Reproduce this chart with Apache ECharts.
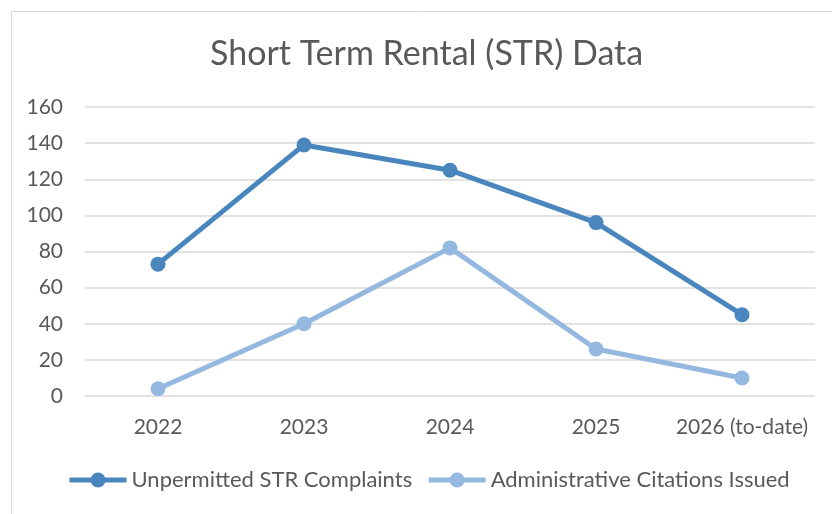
<!DOCTYPE html>
<html><head><meta charset="utf-8">
<script src="https://cdn.jsdelivr.net/npm/echarts@6/dist/echarts.min.js"></script>
<style>html,body{margin:0;padding:0;background:#fff}#c{width:832px;height:514px}</style>
</head><body><div id="c"></div>
<script>
const categories = ['2022','2023','2024','2025','2026 (to-date)'];
const complaints = [73, 139, 125, 96, 45];
const citations = [4, 40, 82, 26, 10];
const yTicks = [0, 20, 40, 60, 80, 100, 120, 140, 160];

const FONT = 'Lato, "Open Sans", sans-serif';
const chart = echarts.init(document.getElementById('c'));
chart.setOption({
  animation: false,
  graphic: [{
    type: 'rect', left: 9, top: 9,
    shape: { width: 900, height: 600 },
    style: { fill: 'none', stroke: '#d9d9d9', lineWidth: 1 }
  }],
  title: {
    text: 'Short Term Rental (STR) Data', left: 205, top: 32,
    textStyle: { color: '#595959', fontSize: 34, fontWeight: 'normal', fontFamily: FONT }
  },
  legend: {
    top: 464, left: 62, itemWidth: 57, itemHeight: 19, itemGap: 14,
    lineStyle: { width: 5 },
    textStyle: { color: '#595959', fontSize: 22, fontFamily: FONT },
    data: ['Unpermitted STR Complaints', 'Administrative Citations Issued']
  },
  grid: { left: 85, right: 17, top: 107, bottom: 118 },
  xAxis: {
    type: 'category', data: categories, boundaryGap: true,
    axisLine: { show: false }, axisTick: { show: false },
    axisLabel: { color: '#595959', fontSize: 21, fontFamily: FONT, margin: 21, interval: 0 }
  },
  yAxis: {
    type: 'value', min: yTicks[0], max: yTicks[yTicks.length - 1], interval: 20,
    axisLine: { show: false }, axisTick: { show: false },
    axisLabel: { color: '#595959', fontSize: 21, fontFamily: FONT, margin: 22 },
    splitLine: { lineStyle: { color: '#d9d9d9', width: 1.5 } }
  },
  series: [
    { name: 'Unpermitted STR Complaints', type: 'line', data: complaints,
      symbol: 'circle', symbolSize: 15,
      lineStyle: { color: '#4a86be', width: 5 }, itemStyle: { color: '#4a86be' } },
    { name: 'Administrative Citations Issued', type: 'line', data: citations,
      symbol: 'circle', symbolSize: 15,
      lineStyle: { color: '#95b8e0', width: 5 }, itemStyle: { color: '#95b8e0' } }
  ]
});
</script></body></html>
